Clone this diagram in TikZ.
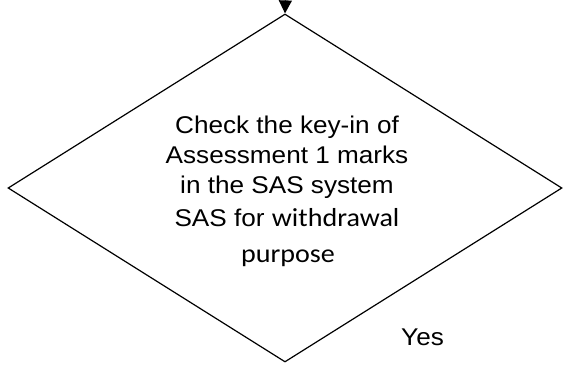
\documentclass[tikz,border=0pt]{standalone}
\usepackage{fontspec}
\setmainfont{Liberation Sans}[FakeStretch=1.08]
\newfontfamily\calib{Carlito}[FakeStretch=1.08]
\usetikzlibrary{shapes.geometric,arrows.meta}
\tikzset{
  decision/.style={diamond, draw=black, line width=1.2pt, inner sep=0pt,
    minimum width=554pt, minimum height=348pt},
  flow/.style={draw=black, line width=1.2pt, -{Triangle[length=13pt,width=13pt]}},
  txt/.style={anchor=base, inner sep=0pt, font=\fontsize{24.2}{29}\selectfont},
  ctxt/.style={anchor=base, inner sep=0pt, font=\calib\fontsize{26}{31}\selectfont},
}
\begin{document}
\begin{tikzpicture}[x=1pt, y=-1pt]
  \useasboundingbox (0,0) rectangle (563,365);
  % decision box
  \node[decision] (check) at (285,188) {};
  % incoming connector from the previous step
  \coordinate (prev) at (286,-20);
  \draw[flow] (prev) -- (check.north);
  % question text
  \node[txt] (l1) at (287,133) {Check the key-in of};
  \node[txt] (l2) at (287,163) {Assessment 1 marks};
  \node[txt] (l3) at (287,193) {in the SAS system};
  \node[txt] (l4) at (287,226) {SAS for {\calib\fontsize{26}{31}\selectfont withdrawal}};
  \node[ctxt] (l5) at (288,262) {purpose};
  % branch label
  \node[txt, anchor=base west] (yes) at (401,345) {Yes};
\end{tikzpicture}
\end{document}
